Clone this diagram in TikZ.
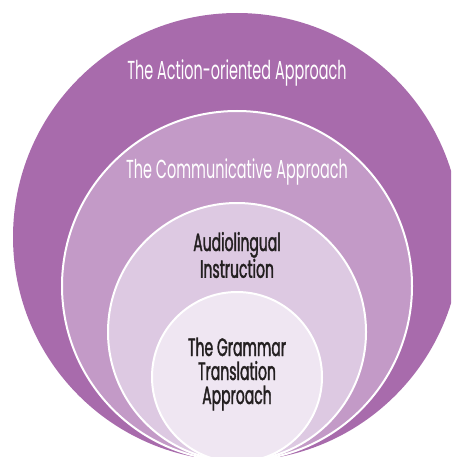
\documentclass[tikz,border=0pt]{standalone}
\usepackage{fontspec}
\setmainfont[FakeStretch=0.555]{Poppins}
\newfontfamily\darkfont[FakeStretch=0.56, FakeBold=1.4]{Poppins}
\definecolor{c1}{HTML}{A86BAC}
\definecolor{c2}{HTML}{C39AC7}
\definecolor{c3}{HTML}{DDC9E2}
\definecolor{c4}{HTML}{EFE6F2}
\definecolor{txt}{HTML}{231F20}
\tikzset{
  ring/.style={draw=white, line width=2pt},
  lightlabel/.style={text=white, font=\fontsize{26}{24}\selectfont, inner sep=0pt},
  darklabel/.style={text=txt, font=\darkfont\fontsize{25}{24}\selectfont, align=center, inner sep=0pt},
}
\begin{document}
\begin{tikzpicture}[x=1pt,y=-1pt]
\useasboundingbox (0,0) rectangle (451,457);
\begin{scope}
\clip (0,0) rectangle (451,457);
\fill[c1] (237,237) circle (224);
\filldraw[c2, ring, fill=c2] (237,286) circle (175);
\filldraw[c3, ring, fill=c3] (237,332) circle (129);
\filldraw[c4, ring, fill=c4] (237,377) circle (85);
\end{scope}
\node[lightlabel] (a) at (237,73) {The Action-oriented Approach};
\node[lightlabel] (b) at (237,172) {The Communicative Approach};
\node[darklabel] (c) at (237,255) {Audiolingual\\Instruction};
\node[darklabel] (d) at (237,374) {The Grammar\\Translation\\Approach};
\end{tikzpicture}
\end{document}
